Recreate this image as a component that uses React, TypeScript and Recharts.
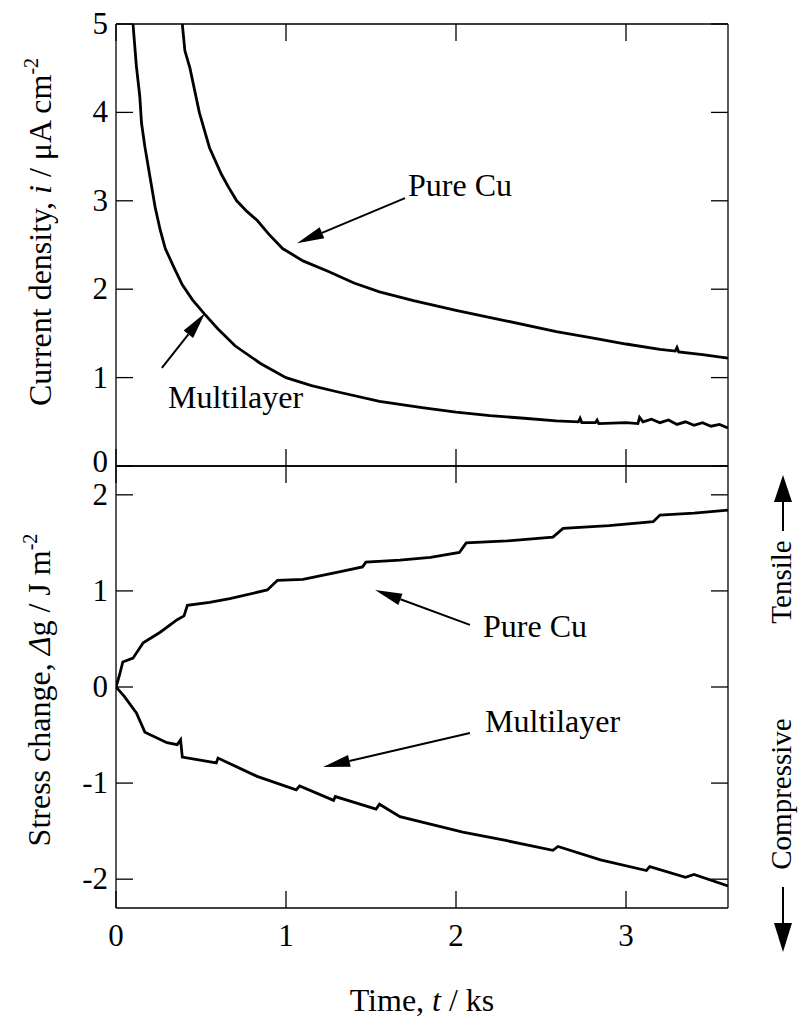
import React from 'react';
import { LineChart, Line, XAxis, YAxis, ReferenceLine, ReferenceDot } from 'recharts';

const FONT = 'Liberation Serif';

// ---- axis ticks ----
const xTicks = [0, 1, 2, 3];
const currentTicks = [0, 1, 2, 3, 4, 5];
const stressTicks = [-2, -1, 0, 1, 2];

// ---- top panel: current density (µA cm^-2) vs time (ks) ----
const cuCurrentT = [0.39, 0.405, 0.435, 0.49, 0.55, 0.62, 0.66, 0.71, 0.77, 0.83, 0.9, 0.98, 1.1, 1.25, 1.4, 1.55, 1.75, 2.0, 2.3, 2.59, 2.8, 3.0, 3.2, 3.29, 3.3, 3.31, 3.45, 3.6];
const cuCurrentI = [5.0, 4.7, 4.5, 4.0, 3.6, 3.3, 3.16, 3.0, 2.88, 2.78, 2.62, 2.46, 2.32, 2.2, 2.07, 1.97, 1.87, 1.76, 1.64, 1.52, 1.45, 1.38, 1.32, 1.3, 1.34, 1.29, 1.26, 1.22];

const mlCurrentT = [0.1, 0.12, 0.14, 0.15, 0.17, 0.2, 0.23, 0.26, 0.29, 0.34, 0.39, 0.45, 0.52, 0.6, 0.7, 0.85, 1.0, 1.15, 1.3, 1.55, 1.8, 2.0, 2.2, 2.4, 2.59, 2.72, 2.73, 2.74, 2.82, 2.83, 2.84, 3.0, 3.07, 3.08, 3.1, 3.15, 3.2, 3.25, 3.3, 3.35, 3.4, 3.45, 3.5, 3.55, 3.6];
const mlCurrentI = [5.0, 4.52, 4.18, 3.88, 3.61, 3.27, 2.93, 2.67, 2.46, 2.25, 2.05, 1.88, 1.72, 1.55, 1.36, 1.16, 1.0, 0.91, 0.84, 0.73, 0.66, 0.61, 0.57, 0.54, 0.51, 0.5, 0.54, 0.49, 0.49, 0.52, 0.48, 0.49, 0.48, 0.55, 0.5, 0.53, 0.49, 0.52, 0.47, 0.5, 0.46, 0.49, 0.45, 0.47, 0.43];

// ---- bottom panel: stress change (J m^-2) vs time (ks) ----
const cuStressT = [0, 0.02, 0.04, 0.1, 0.16, 0.26, 0.36, 0.4, 0.42, 0.55, 0.67, 0.89, 0.95, 1.1, 1.32, 1.45, 1.47, 1.67, 1.85, 2.02, 2.06, 2.3, 2.57, 2.63, 2.9, 3.16, 3.2, 3.4, 3.6];
const cuStressG = [0, 0.12, 0.26, 0.3, 0.46, 0.57, 0.7, 0.74, 0.85, 0.88, 0.92, 1.01, 1.11, 1.12, 1.2, 1.25, 1.3, 1.32, 1.35, 1.4, 1.5, 1.52, 1.56, 1.65, 1.68, 1.72, 1.79, 1.81, 1.84];

const mlStressT = [0, 0.05, 0.12, 0.17, 0.3, 0.36, 0.38, 0.39, 0.59, 0.6, 0.83, 1.06, 1.08, 1.28, 1.29, 1.53, 1.55, 1.67, 2.04, 2.3, 2.57, 2.6, 2.85, 3.12, 3.14, 3.35, 3.4, 3.6];
const mlStressG = [0, -0.1, -0.27, -0.47, -0.58, -0.6, -0.55, -0.73, -0.79, -0.74, -0.93, -1.07, -1.03, -1.18, -1.14, -1.27, -1.22, -1.35, -1.51, -1.6, -1.7, -1.66, -1.8, -1.91, -1.87, -1.98, -1.95, -2.07];

// ---- annotations (data coordinates) ----
const topLabelNames = ['Pure Cu', 'Multilayer'];
const topLabelPos = [[1.718, 3.054], [0.306, 0.656]];
const topArrowFrom = [[1.7, 3.03], [0.27, 1.11]];
const topArrowTo = [[1.065, 2.52], [0.524, 1.73]];

const botLabelNames = ['Pure Cu', 'Multilayer'];
const botLabelPos = [[2.159, 0.521], [2.171, -0.469]];
const botArrowFrom = [[2.082, 0.646], [2.082, -0.479]];
const botArrowTo = [[1.524, 1.01], [1.218, -0.833]];

const toData = (ts: number[], vs: number[]) => ts.map((t, k) => ({ t, v: vs[k] }));
const cuCurrent = toData(cuCurrentT, cuCurrentI);
const mlCurrent = toData(mlCurrentT, mlCurrentI);
const cuStress = toData(cuStressT, cuStressG);
const mlStress = toData(mlStressT, mlStressG);

const AX = { stroke: '#000', strokeWidth: 1.3 };
const TL = 17;

const makeLeftTick = (lowLift: number) => (p: any) => (
  <g>
    <line x1={p.x} x2={p.x + TL} y1={p.y} y2={p.y} stroke="#000" strokeWidth={1.3} />
    <text
      x={p.x - 8}
      y={p.y + 10 - (p.index === 0 ? lowLift : 0)}
      textAnchor="end"
      fontSize={31}
      fontFamily={FONT}
      fill="#000"
    >
      {String(p.payload.value)}
    </text>
  </g>
);
const TopLeftTick = makeLeftTick(4);
const BotLeftTick = makeLeftTick(0);
const RightTick = (p: any) => (
  <line x1={p.x} x2={p.x - TL} y1={p.y} y2={p.y} stroke="#000" strokeWidth={1.3} />
);
const TopTick = (p: any) => (
  <line x1={p.x} x2={p.x} y1={p.y} y2={p.y + TL} stroke="#000" strokeWidth={1.3} />
);
const UpTick = (p: any) => (
  <line x1={p.x} x2={p.x} y1={p.y} y2={p.y - TL} stroke="#000" strokeWidth={1.3} />
);
const BottomTick = (p: any) => (
  <g>
    <line x1={p.x} x2={p.x} y1={p.y} y2={p.y - TL} stroke="#000" strokeWidth={1.3} />
    <text x={p.x} y={p.y + 38} textAnchor="middle" fontSize={31} fontFamily={FONT} fill="#000">
      {String(p.payload.value)}
    </text>
  </g>
);

const arrowShape = (p: any) => {
  const { x1, y1, x2, y2 } = p;
  const dx = x2 - x1;
  const dy = y2 - y1;
  const len = Math.hypot(dx, dy) || 1;
  const ux = dx / len;
  const uy = dy / len;
  const L = 27;
  const W = 6;
  const bx = x2 - ux * L;
  const by = y2 - uy * L;
  const nx = -uy;
  const ny = ux;
  return (
    <g>
      <line x1={x1} y1={y1} x2={bx} y2={by} stroke="#000" strokeWidth={2} />
      <polygon points={`${x2},${y2} ${bx + nx * W},${by + ny * W} ${bx - nx * W},${by - ny * W}`} fill="#000" />
    </g>
  );
};

const labelShape = (name: string) => (p: any) => (
  <text x={p.cx} y={p.cy} textAnchor="start" fontSize={32} fontFamily={FONT} fill="#000">
    {name}
  </text>
);

const lineProps = {
  type: 'linear' as const,
  dataKey: 'v',
  stroke: '#000',
  strokeWidth: 2.8,
  dot: false,
  activeDot: false,
  isAnimationActive: false,
  xAxisId: 'b',
  yAxisId: 'l',
};

const axisCommon = {
  allowDataOverflow: true,
  interval: 0 as const,
  axisLine: AX,
  tickLine: false,
  tickSize: 0,
  tickMargin: 0,
};

export default function App() {
  return (
    <div style={{ position: 'absolute', left: 0, top: 0, width: 800, height: 1021, background: '#fff', fontFamily: FONT }}>
      <div style={{ position: 'absolute', left: 0, top: 0 }}>
        <LineChart width={800} height={500} margin={{ top: 23, right: 71, bottom: 33, left: 115 }}>
          <XAxis {...axisCommon} xAxisId="b" orientation="bottom" type="number" domain={[0, 3.6]} ticks={xTicks} height={1} tick={UpTick} dataKey="t" />
          <XAxis {...axisCommon} xAxisId="t" orientation="top" type="number" domain={[0, 3.6]} ticks={xTicks} height={1} tick={TopTick} dataKey="t" />
          <YAxis {...axisCommon} yAxisId="l" orientation="left" type="number" domain={[0, 5]} ticks={currentTicks} width={1} tick={TopLeftTick} />
          <YAxis {...axisCommon} yAxisId="r" orientation="right" type="number" domain={[0, 5]} ticks={currentTicks} width={1} tick={RightTick} />
          <Line {...lineProps} data={cuCurrent} name="Pure Cu" />
          <Line {...lineProps} data={mlCurrent} name="Multilayer" />
          {topArrowFrom.map((f, k) => (
            <ReferenceLine key={'ta' + k} xAxisId="b" yAxisId="l" segment={[{ x: f[0], y: f[1] }, { x: topArrowTo[k][0], y: topArrowTo[k][1] }]} shape={arrowShape} />
          ))}
          {topLabelPos.map((pp, k) => (
            <ReferenceDot key={'tl' + k} xAxisId="b" yAxisId="l" x={pp[0]} y={pp[1]} r={1} shape={labelShape(topLabelNames[k])} />
          ))}
        </LineChart>
      </div>
      <div style={{ position: 'absolute', left: 0, top: 456 }}>
        <LineChart width={800} height={565} margin={{ top: 9, right: 71, bottom: 112, left: 115 }}>
          <XAxis {...axisCommon} xAxisId="b" orientation="bottom" type="number" domain={[0, 3.6]} ticks={xTicks} height={1} tick={BottomTick} dataKey="t" />
          <XAxis {...axisCommon} xAxisId="t" orientation="top" type="number" domain={[0, 3.6]} ticks={xTicks} height={1} tick={TopTick} dataKey="t" />
          <YAxis {...axisCommon} yAxisId="l" orientation="left" type="number" domain={[-2.3, 2.3]} ticks={stressTicks} width={1} tick={BotLeftTick} />
          <YAxis {...axisCommon} yAxisId="r" orientation="right" type="number" domain={[-2.3, 2.3]} ticks={stressTicks} width={1} tick={RightTick} />
          <Line {...lineProps} data={cuStress} name="Pure Cu" />
          <Line {...lineProps} data={mlStress} name="Multilayer" />
          {botArrowFrom.map((f, k) => (
            <ReferenceLine key={'ba' + k} xAxisId="b" yAxisId="l" segment={[{ x: f[0], y: f[1] }, { x: botArrowTo[k][0], y: botArrowTo[k][1] }]} shape={arrowShape} />
          ))}
          {botLabelPos.map((pp, k) => (
            <ReferenceDot key={'bl' + k} xAxisId="b" yAxisId="l" x={pp[0]} y={pp[1]} r={1} shape={labelShape(botLabelNames[k])} />
          ))}
        </LineChart>
      </div>
      <svg width={800} height={1021} style={{ position: 'absolute', left: 0, top: 0, pointerEvents: 'none' }}>
        <g fontFamily={FONT} fill="#000">
          <text transform="translate(51,232) rotate(-90)" textAnchor="middle" fontSize={32}>
            Current density, <tspan fontStyle="italic">i</tspan> / μA cm
            <tspan dy={-13} fontSize={20}>-2</tspan>
          </text>
          <text transform="translate(50,690) rotate(-90)" textAnchor="middle" fontSize={32}>
            Stress change, <tspan fontStyle="italic">Δ</tspan>g / J m
            <tspan dy={-13} fontSize={20}>-2</tspan>
          </text>
          <text x={422} y={1011} textAnchor="middle" fontSize={32}>
            Time, <tspan fontStyle="italic">t</tspan> / ks
          </text>
          <text transform="translate(791,582) rotate(-90)" textAnchor="middle" fontSize={29}>Tensile</text>
          <text transform="translate(791,794) rotate(-90)" textAnchor="middle" fontSize={29}>Compressive</text>
        </g>
        <line x1={783} y1={531} x2={783} y2={500} stroke="#000" strokeWidth={2} />
        <polygon points="783,475 774,502 792,502" fill="#000" />
        <line x1={783} y1={887} x2={783} y2={925} stroke="#000" strokeWidth={2} />
        <polygon points="783,952 774,923 792,923" fill="#000" />
      </svg>
    </div>
  );
}
